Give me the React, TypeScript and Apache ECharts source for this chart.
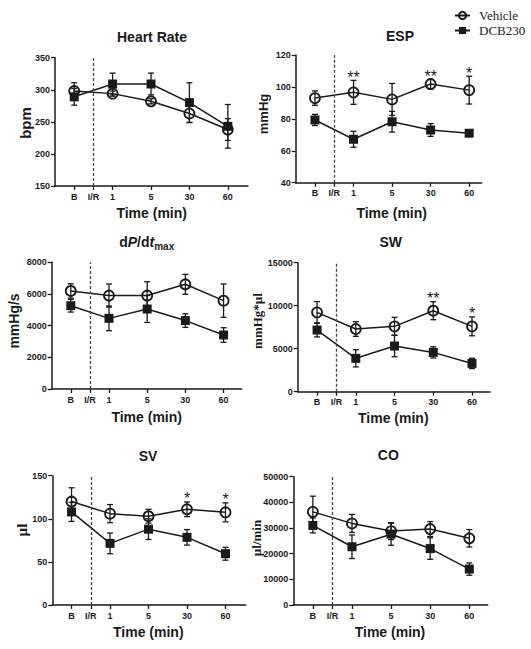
import React, { useEffect, useRef } from "react";
import * as echarts from "echarts";

// ---------- data ----------
const timeLabels = ["B", "I/R", "1", "5", "30", "60"];
const timeAxisPositions = [0, 1, 2, 4, 6, 8];
const measuredTimes = ["B", "1", "5", "30", "60"];
const ischemiaLabel = "I/R";
const seriesNames = ["Vehicle", "DCB230"];

const hrVehicle = [298, 294, 282, 263, 238];
const hrVehicleSem = [13, 4, 4, 14, 17];
const hrDcb = [289, 309, 309, 280, 243];
const hrDcbSem = [13, 17, 17, 31, 34];
const hrSig = ["", "", "", "", ""];

const espVehicle = [93, 96.6, 92.2, 101.8, 98];
const espVehicleSem = [4.5, 7.5, 10, 3, 8.7];
const espDcb = [79.3, 67.2, 78.2, 73, 71];
const espDcbSem = [3.5, 5, 6.5, 4, 1.5];
const espSig = ["", "**", "", "**", "*"];

const dpdtVehicle = [6190, 5900, 5900, 6610, 5580];
const dpdtVehicleSem = [450, 730, 870, 630, 1050];
const dpdtDcb = [5260, 4460, 5050, 4320, 3410];
const dpdtDcbSem = [400, 780, 850, 430, 460];
const dpdtSig = ["", "", "", "", ""];

const swVehicle = [9225, 7290, 7600, 9420, 7600];
const swVehicleSem = [1250, 850, 1050, 1050, 1100];
const swDcb = [7170, 3880, 5310, 4570, 3290];
const swDcbSem = [800, 1000, 1250, 650, 600];
const swSig = ["", "", "", "**", "*"];

const svVehicle = [120, 106, 103, 111, 107.5];
const svVehicleSem = [16, 10.5, 8, 8.5, 11];
const svDcb = [108, 71.5, 88, 78.5, 59.5];
const svDcbSem = [11, 12, 12, 9, 7.5];
const svSig = ["", "", "", "*", "*"];

const coVehicle = [36300, 31800, 28800, 29600, 26000];
const coVehicleSem = [6100, 3500, 3300, 2900, 3400];
const coDcb = [31000, 22700, 27600, 22000, 14000];
const coDcbSem = [2900, 4600, 4300, 4200, 2400];
const coSig = ["", "", "", "", ""];

const panelTitles = ["Heart Rate", "ESP", "dP/dtmax", "SW", "SV", "CO"];
const panelUnits = ["bpm", "mmHg", "mmHg/s", "mmHg*µl", "µl", "µl/min"];
const yMins = [150, 40, 0, 0, 0, 0];
const yMaxs = [350, 120, 8000, 15000, 150, 50000];
const yIntervals = [50, 20, 2000, 5000, 50, 10000];
const xAxisTitle = "Time (min)";

// ---------- layout / styles ----------
const FONT = "'Liberation Sans', Arial, Helvetica, sans-serif";
const SERIF = "'Liberation Serif', 'Times New Roman', serif";
const INK = "#1a1a1a";

const layouts = [
  { grid: [55, 57.7, 193, 128.3], xMax: 9.05, title: [152, 37], time: [151.7, 213], unit: [25, 123], unitSize: 15, unitFont: FONT },
  { grid: [295.7, 55, 186, 127.7], xMax: 8.65, title: [400, 36], time: [391.7, 213], unit: [263, 114], unitSize: 13, unitFont: FONT },
  { grid: [51.7, 262.3, 190, 126.7], xMax: 8.95, title: [146.7, 241.7], time: [146.7, 416.7], unit: [14, 321], unitSize: 14, unitFont: FONT },
  { grid: [297.7, 262.7, 192.3, 129], xMax: 8.93, title: [390.7, 242.3], time: [393.3, 418.3], unit: [257, 321], unitSize: 13, unitFont: SERIF },
  { grid: [52.3, 475.7, 193.4, 129.3], xMax: 9.05, title: [148, 455.7], time: [148.3, 631.7], unit: [22, 530], unitSize: 15, unitFont: SERIF },
  { grid: [293.3, 476.7, 194.4, 128.3], xMax: 8.94, title: [388.3, 455], time: [390, 631.7], unit: [256, 538], unitSize: 13, unitFont: SERIF },
];

const panels = [
  { v: hrVehicle, vs: hrVehicleSem, d: hrDcb, ds: hrDcbSem, sig: hrSig },
  { v: espVehicle, vs: espVehicleSem, d: espDcb, ds: espDcbSem, sig: espSig },
  { v: dpdtVehicle, vs: dpdtVehicleSem, d: dpdtDcb, ds: dpdtDcbSem, sig: dpdtSig },
  { v: swVehicle, vs: swVehicleSem, d: swDcb, ds: swDcbSem, sig: swSig },
  { v: svVehicle, vs: svVehicleSem, d: svDcb, ds: svDcbSem, sig: svSig },
  { v: coVehicle, vs: coVehicleSem, d: coDcb, ds: coDcbSem, sig: coSig },
];

const posOf = (t: string) => timeAxisPositions[timeLabels.indexOf(t)];

function buildOption() {
  const grid: any[] = [];
  const xAxis: any[] = [];
  const yAxis: any[] = [];
  const series: any[] = [];
  const graphic: any[] = [];

  const axisLineStyle = { color: INK, width: 1.5 };

  panels.forEach((p, i) => {
    const L = layouts[i];
    grid.push({ left: L.grid[0], top: L.grid[1], width: L.grid[2], height: L.grid[3] });
    xAxis.push({
      type: "value",
      gridIndex: i,
      min: -1,
      max: L.xMax,
      splitLine: { show: false },
      axisLine: { show: true, onZero: false, lineStyle: axisLineStyle },
      axisTick: { show: true, length: 4, lineStyle: { color: INK, width: 1.3 }, customValues: timeAxisPositions },
      axisLabel: {
        customValues: timeAxisPositions,
        formatter: (val: number) => {
          const k = timeAxisPositions.indexOf(val);
          return k >= 0 ? timeLabels[k] : "";
        },
        fontFamily: FONT,
        fontWeight: "bold",
        fontSize: 9,
        color: INK,
        margin: 6,
      },
    });
    yAxis.push({
      type: "value",
      gridIndex: i,
      min: yMins[i],
      max: yMaxs[i],
      interval: yIntervals[i],
      splitLine: { show: false },
      axisLine: { show: true, onZero: false, lineStyle: axisLineStyle },
      axisTick: { show: true, length: 4, lineStyle: { color: INK, width: 1.3 } },
      axisLabel: {
        formatter: (v: number) => String(v),
        fontFamily: FONT,
        fontWeight: "bold",
        fontSize: 9,
        color: INK,
        margin: 5,
      },
    });

    const groups = [
      { name: seriesNames[0], mean: p.v, sem: p.vs, circle: true },
      { name: seriesNames[1], mean: p.d, sem: p.ds, circle: false },
    ];

    groups.forEach((g) => {
      const pts = measuredTimes.map((t, k) => [posOf(t), g.mean[k], g.sem[k]]);
      series.push({
        type: "custom",
        xAxisIndex: i,
        yAxisIndex: i,
        silent: true,
        z: 2,
        data: pts,
        encode: { x: 0, y: 1 },
        renderItem: (params: any, api: any) => {
          const x = api.value(0);
          const m = api.value(1);
          const e = api.value(2);
          const top = api.coord([x, m + e]);
          const bot = api.coord([x, m - e]);
          const hw = 3;
          const st = { stroke: INK, lineWidth: 1.3 };
          return {
            type: "group",
            children: [
              { type: "line", shape: { x1: top[0], y1: top[1], x2: bot[0], y2: bot[1] }, style: st },
              { type: "line", shape: { x1: top[0] - hw, y1: top[1], x2: top[0] + hw, y2: top[1] }, style: st },
              { type: "line", shape: { x1: bot[0] - hw, y1: bot[1], x2: bot[0] + hw, y2: bot[1] }, style: st },
            ],
          };
        },
      });
      const lineSeries: any = {
        type: "line",
        name: g.name,
        xAxisIndex: i,
        yAxisIndex: i,
        z: 3,
        data: pts.map((q) => [q[0], q[1]]),
        symbol: g.circle ? "circle" : "rect",
        symbolSize: g.circle ? 10 : 9,
        lineStyle: { color: INK, width: 1.5 },
        itemStyle: g.circle
          ? { color: "rgba(255,255,255,0)", borderColor: INK, borderWidth: 1.8 }
          : { color: INK, borderColor: INK, borderWidth: 0 },
      };
      if (g.circle) {
        lineSeries.markLine = {
          silent: true,
          symbol: ["none", "none"],
          label: { show: false },
          lineStyle: { type: [3, 2], color: "#444", width: 1.3 },
          data: [{ xAxis: posOf(ischemiaLabel) }],
        };
      }
      series.push(lineSeries);
    });

    // significance marks above the vehicle error bars
    const sigPts = measuredTimes
      .map((t, k) => ({ x: posOf(t), top: p.v[k] + p.vs[k], text: p.sig[k] }))
      .filter((s) => s.text);
    if (sigPts.length) {
      series.push({
        type: "custom",
        xAxisIndex: i,
        yAxisIndex: i,
        silent: true,
        z: 4,
        data: sigPts.map((s) => [s.x, s.top]),
        encode: { x: 0, y: 1 },
        renderItem: (params: any, api: any) => {
          const pt = api.coord([api.value(0), api.value(1)]);
          return {
            type: "text",
            x: pt[0],
            y: pt[1] + 5,
            style: {
              text: sigPts[params.dataIndex].text,
              align: "center",
              verticalAlign: "bottom",
              fontSize: 16,
              fontFamily: FONT,
              fill: INK,
            },
          };
        },
      });
    }

    // panel title
    if (i === 2) {
      graphic.push({
        type: "text",
        x: L.title[0],
        y: L.title[1],
        style: {
          text: "{a|d}{i|P}{a|/d}{i|t}{s|max}",
          align: "center",
          verticalAlign: "middle",
          fill: INK,
          rich: {
            a: { fontFamily: FONT, fontWeight: "bold", fontSize: 14, lineHeight: 20, fill: INK },
            i: { fontFamily: FONT, fontWeight: "bold", fontStyle: "italic", fontSize: 14, lineHeight: 20, fill: INK },
            s: { fontFamily: FONT, fontWeight: "bold", fontSize: 10, lineHeight: 10, verticalAlign: "bottom", fill: INK },
          },
        },
      });
    } else {
      graphic.push({
        type: "text",
        x: L.title[0],
        y: L.title[1],
        style: {
          text: panelTitles[i],
          align: "center",
          verticalAlign: "middle",
          fontFamily: FONT,
          fontWeight: "bold",
          fontSize: 14,
          fill: INK,
        },
      });
    }
    // x axis title
    graphic.push({
      type: "text",
      x: L.time[0],
      y: L.time[1],
      style: {
        text: xAxisTitle,
        align: "center",
        verticalAlign: "middle",
        fontFamily: FONT,
        fontWeight: "bold",
        fontSize: 14,
        fill: INK,
      },
    });
    // y axis unit
    graphic.push({
      type: "text",
      x: L.unit[0],
      y: L.unit[1],
      rotation: Math.PI / 2,
      style: {
        text: panelUnits[i],
        align: "center",
        verticalAlign: "middle",
        fontFamily: L.unitFont,
        fontWeight: "bold",
        fontSize: L.unitSize,
        fill: INK,
      },
    });
  });

  return {
    animation: false,
    backgroundColor: "#ffffff",
    legend: {
      data: seriesNames,
      orient: "vertical",
      left: 449,
      top: 4,
      itemWidth: 15,
      itemHeight: 9,
      itemGap: 2,
      selectedMode: false,
      textStyle: { fontFamily: SERIF, fontSize: 13, color: "#222", padding: [0, 0, 0, 4] },
    },
    grid,
    xAxis,
    yAxis,
    series,
    graphic,
  };
}

export default function App() {
  const ref = useRef<HTMLDivElement>(null);
  useEffect(() => {
    if (!ref.current) return;
    const chart = echarts.init(ref.current, undefined, { renderer: "svg" });
    chart.setOption(buildOption() as any);
    return () => chart.dispose();
  }, []);
  return (
    <div
      ref={ref}
      style={{ position: "absolute", left: 0, top: 0, width: 531, height: 649, background: "#fff" }}
    />
  );
}
